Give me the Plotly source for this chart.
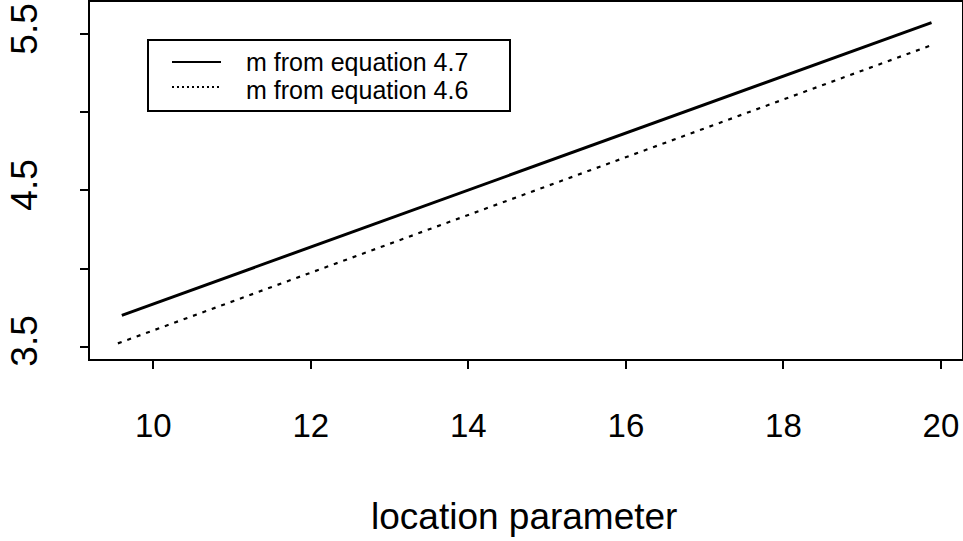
import plotly.graph_objects as go

# Location parameter and the two estimates of m
x_eq47 = [9.6, 19.88]
m_eq47 = [3.70, 5.576]
x_eq46 = [9.55, 19.89]
m_eq46 = [3.52, 5.433]

series_names = ["m from equation 4.7", "m from equation 4.6"]

x_ticks = [10, 12, 14, 16, 18, 20]
x_tick_labels = ["10", "12", "14", "16", "18", "20"]
y_ticks = [3.5, 4.0, 4.5, 5.0, 5.5]
y_tick_labels = ["3.5", "", "4.5", "", "5.5"]

x_title = "location parameter"

W, H = 963, 541
ML, MR, MT, MB = 90, 1, 2, 182
PW, PH = W - ML - MR, H - MT - MB


def px_x(px):
    return (px - ML) / PW


def px_y(py):
    return (H - MB - py) / PH


FONT = "Liberation Sans, Arial, Helvetica, sans-serif"

fig = go.Figure()
fig.add_trace(go.Scatter(x=x_eq47, y=m_eq47, mode="lines", name=series_names[0],
                         line=dict(color="black", width=3), showlegend=False))
fig.add_trace(go.Scatter(x=x_eq46, y=m_eq46, mode="lines", name=series_names[1],
                         line=dict(color="black", width=2.2, dash="4px,6px"),
                         showlegend=False))

# Boxed legend in the upper left of the plotting region
shapes = [
    dict(type="rect", xref="paper", yref="paper",
         x0=px_x(148), x1=px_x(510), y0=px_y(111), y1=px_y(40),
         line=dict(color="black", width=2), fillcolor="white", layer="above"),
    dict(type="line", xref="paper", yref="paper",
         x0=px_x(172), x1=px_x(221), y0=px_y(62), y1=px_y(62),
         line=dict(color="black", width=2)),
    dict(type="line", xref="paper", yref="paper",
         x0=px_x(172), x1=px_x(221), y0=px_y(87), y1=px_y(87),
         line=dict(color="black", width=2, dash="2px,3px")),
]

legend_font = dict(family=FONT, size=25, color="black")
annotations = [
    dict(xref="paper", yref="paper", x=px_x(244), y=px_y(62), xanchor="left",
         yanchor="middle", text=series_names[0], showarrow=False, font=legend_font),
    dict(xref="paper", yref="paper", x=px_x(244), y=px_y(90), xanchor="left",
         yanchor="middle", text=series_names[1], showarrow=False, font=legend_font),
    dict(xref="paper", yref="paper", x=px_x(524), y=px_y(516), xanchor="center",
         yanchor="middle", text=x_title, showarrow=False,
         font=dict(family=FONT, size=37, color="black")),
]

fig.update_layout(
    width=W, height=H,
    margin=dict(l=ML, r=MR, t=MT, b=MB, pad=0, autoexpand=False),
    paper_bgcolor="white", plot_bgcolor="white",
    font=dict(family=FONT, color="black"),
    shapes=shapes, annotations=annotations,
    showlegend=False,
)

fig.update_xaxes(
    range=[9.196, 20.267], tickvals=x_ticks, ticktext=x_tick_labels,
    showgrid=False, zeroline=False, automargin=False,
    showline=True, linecolor="black", linewidth=2, mirror=True,
    ticks="outside", ticklen=8, tickwidth=2, tickcolor="black",
    tickfont=dict(family=FONT, size=33, color="black"),
    ticklabelstandoff=28,
)
fig.update_yaxes(
    range=[3.42, 5.708], tickvals=y_ticks, ticktext=y_tick_labels,
    showgrid=False, zeroline=False, automargin=False,
    showline=True, linecolor="black", linewidth=2, mirror=True,
    ticks="outside", ticklen=8, tickwidth=2, tickcolor="black",
    tickangle=-90,
    tickfont=dict(family=FONT, size=37, color="black"),
    ticklabelstandoff=28,
)

fig.write_html("out.html")
